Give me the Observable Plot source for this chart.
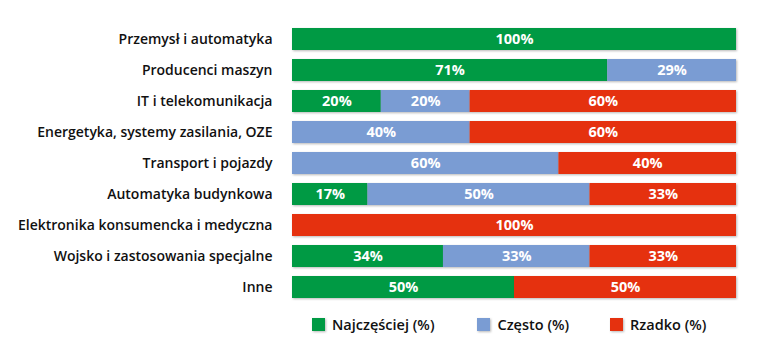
<!DOCTYPE html>
<html>
<head>
<meta charset="utf-8">
<script src="https://cdn.jsdelivr.net/npm/d3@7"></script>
<script src="https://cdn.jsdelivr.net/npm/@observablehq/plot@0.6"></script>
<style>
  html, body { margin: 0; padding: 0; background: #fff; }
  #chart { width: 764px; }
  #chart svg { display: block; }
  g[aria-label="bar"] rect { filter: drop-shadow(1.5px 1.5px 1px rgba(0,0,0,0.28)); }
  .lg-swatches { font-family: "Open Sans", sans-serif !important; font-size: 14.5px !important; font-weight: 600 !important; color: #111 !important; margin: 0 !important; padding-left: 312px !important; min-height: 0 !important; height: 24px !important; margin-top: 2px !important; flex-wrap: nowrap !important; white-space: nowrap !important; }
  .lg-swatch { margin-right: 42px !important; }
  span.lg-swatch:nth-of-type(1) { margin-right: 43px !important; }
  span.lg-swatch:nth-of-type(2) { margin-right: 41px !important; }
  .lg-swatch > svg { margin-right: 7px !important; filter: drop-shadow(1px 1px 0.8px rgba(0,0,0,0.28)); }
</style>
</head>
<body>
<div id="chart"></div>
<script>
const categories = [
  "Przemysł i automatyka",
  "Producenci maszyn",
  "IT i telekomunikacja",
  "Energetyka, systemy zasilania, OZE",
  "Transport i pojazdy",
  "Automatyka budynkowa",
  "Elektronika konsumencka i medyczna",
  "Wojsko i zastosowania specjalne",
  "Inne"
];
const seriesNames = ["Najczęściej (%)", "Często (%)", "Rzadko (%)"];
const seriesColors = ["#009a44", "#7a9cd3", "#e5310f"];
const najczesciej = [100, 71, 20, 0, 0, 17, 0, 34, 50];
const czesto      = [0, 29, 20, 40, 60, 50, 0, 33, 0];
const rzadko      = [0, 0, 60, 60, 40, 33, 100, 33, 50];

const seriesValues = [najczesciej, czesto, rzadko];
const data = [];
categories.forEach((c, i) => {
  seriesValues.forEach((vals, s) => {
    if (vals[i] > 0) data.push({ category: c, series: seriesNames[s], value: vals[i] });
  });
});

const plot = Plot.plot({
  width: 764,
  height: 310,
  marginLeft: 292,
  marginRight: 28,
  marginTop: 19,
  marginBottom: 2,
  style: { fontFamily: "Open Sans, sans-serif", fontSize: "14px", fontWeight: 600, color: "#111", background: "#fff" },
  x: { domain: [0, 100], axis: null },
  y: { domain: categories, padding: 0.29, label: null, tickSize: 0, tickPadding: 20 },
  color: { domain: seriesNames, range: seriesColors },
  marks: [
    Plot.barX(data, Plot.stackX({ x: "value", y: "category", fill: "series", z: "series", order: seriesNames })),
    Plot.text(data, Plot.stackX({
      x: "value", y: "category", z: "series", order: seriesNames,
      text: d => d.value + "%",
      fill: "white",
      fontSize: 14.5,
      fontWeight: 700
    }))
  ]
});

document.getElementById("chart").appendChild(plot);

const legend = Plot.legend({
  color: { domain: seriesNames, range: seriesColors },
  swatchSize: 13,
  className: "lg"
});
document.getElementById("chart").appendChild(legend);
</script>
</body>
</html>
